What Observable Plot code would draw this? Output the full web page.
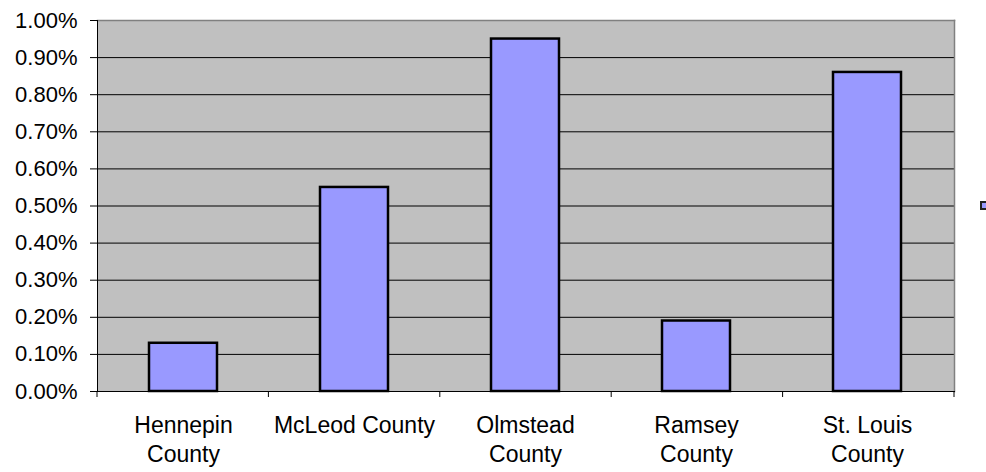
<!DOCTYPE html>
<html>
<head>
<meta charset="utf-8">
<script src="https://cdn.jsdelivr.net/npm/d3@7"></script>
<script src="https://cdn.jsdelivr.net/npm/@observablehq/plot@0.6"></script>
<style>
  html, body { margin: 0; padding: 0; background: #fff; overflow: hidden; }
  #chart { position: relative; width: 986px; height: 472px; }
  .key {
    position: absolute; left: 980px; top: 201px;
    width: 5px; height: 5px;
    background: #9999ff; border: 2px solid #222;
  }
</style>
</head>
<body>
<div id="chart"><div class="key"></div></div>
<script>
// Counties and their rates (as fractions, shown as percentages)
const counties = ["Hennepin County", "McLeod County", "Olmstead County", "Ramsey County", "St. Louis County"];
const countyLabels = ["Hennepin\nCounty", "McLeod County", "Olmstead\nCounty", "Ramsey\nCounty", "St. Louis\nCounty"];
const rates = [0.0013, 0.0055, 0.0095, 0.0019, 0.0086];
const yTicks = [0, 0.001, 0.002, 0.003, 0.004, 0.005, 0.006, 0.007, 0.008, 0.009, 0.01];

const rows = counties.map((c, i) => ({county: c, rate: rates[i]}));
const labelOf = new Map(counties.map((c, i) => [c, countyLabels[i]]));
const pct = d3.format(".2%");

// Short tick marks at the category boundaries along the bottom axis
function boundaryTicks(index, scales, values, dims) {
  const {width, height, marginLeft, marginRight, marginBottom} = dims;
  const step = (width - marginLeft - marginRight) / counties.length;
  const y0 = height - marginBottom;
  const g = d3.create("svg:g").attr("stroke", "black").attr("stroke-width", 1);
  for (let i = 0; i <= counties.length; i++) {
    const x = marginLeft + i * step;
    g.append("line").attr("x1", x).attr("x2", x).attr("y1", y0).attr("y2", y0 + 6);
  }
  return g.node();
}

const chart = Plot.plot({
  width: 986,
  height: 472,
  marginLeft: 97,
  marginRight: 32,
  marginTop: 20,
  marginBottom: 81,
  style: {fontFamily: "'Liberation Sans', Arial, sans-serif", fontSize: "22px", color: "black", background: "transparent"},
  x: {domain: counties, paddingInner: 0.6, paddingOuter: 0.3, label: null},
  y: {domain: [0, 0.01], label: null},
  marks: [
    Plot.frame({fill: "#c0c0c0", stroke: null}),
    Plot.ruleY(yTicks.slice(1, -1), {stroke: "black", strokeWidth: 1}),
    Plot.frame({anchor: "top", stroke: "#808080", strokeWidth: 1.5}),
    Plot.frame({anchor: "right", stroke: "#808080", strokeWidth: 1.5}),
    Plot.barY(rows, {x: "county", y: "rate", fill: "#9999ff", stroke: "black", strokeWidth: 2.5}),
    Plot.frame({anchor: "left", stroke: "black", strokeWidth: 1}),
    Plot.frame({anchor: "bottom", stroke: "black", strokeWidth: 1}),
    Plot.axisY({ticks: yTicks, tickFormat: pct, tickSize: 7, tickPadding: 13, fontSize: 22, stroke: "black"}),
    Plot.axisX({tickSize: 0, tickPadding: 21, tickFormat: d => labelOf.get(d), fontSize: 23, lineHeight: 1.25}),
    boundaryTicks
  ]
});

document.getElementById("chart").prepend(chart);
</script>
</body>
</html>
